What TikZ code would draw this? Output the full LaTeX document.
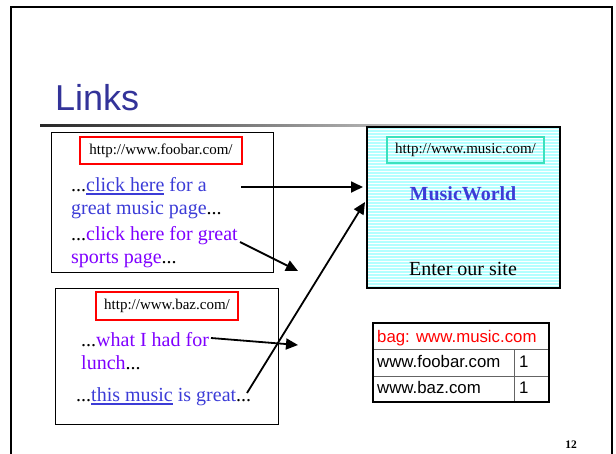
\documentclass[tikz,border=0pt]{standalone}
\usepackage{fontspec}
\setmainfont{Liberation Serif}
\setsansfont{Liberation Sans}
\usetikzlibrary{arrows.meta}

\definecolor{titleblue}{RGB}{51,51,153}
\definecolor{linkblue}{RGB}{60,60,215}
\definecolor{visited}{RGB}{127,0,255}
\definecolor{urlteal}{RGB}{60,225,190}
\definecolor{stripe}{RGB}{180,255,255}
\definecolor{cellgray}{RGB}{100,100,100}

% underlined hyperlink text with a heavier rule
\newsavebox\linkbox
\newcommand\linkul[1]{\sbox\linkbox{#1}\rlap{\rule[-3.6pt]{\wd\linkbox}{1.7pt}}\usebox\linkbox}

\tikzset{
  frame/.style={line width=2.4pt, black},
  pagebox/.style={draw=black, line width=0.9pt, inner sep=0pt},
  urlbox/.style={draw=red, line width=1.5pt, inner sep=0pt, font=\fontsize{15}{18}\selectfont},
  pagetext/.style={anchor=base west, inner sep=0pt, font=\fontsize{20}{24}\selectfont},
  link/.style={line width=1.8pt, -{Triangle[length=12pt,width=11pt]}},
  cell/.style={draw=cellgray, line width=1pt, inner sep=0pt},
  celltext/.style={anchor=base west, inner sep=0pt, font=\sffamily\fontsize{16.8}{19}\selectfont},
}

\begin{document}
\begin{tikzpicture}[x=1pt,y=-1pt]
\useasboundingbox (0,0) rectangle (616,453);

% slide frame
\draw[frame] (11,455) -- (11,7) -- (612,7) -- (612,455);

% title and fading rule
\node[anchor=base west, inner sep=0pt, text=titleblue,
      font=\sffamily\fontsize{36}{40}\selectfont] (title) at (55,110) {Links};
\shade[left color=black!85, right color=white] (40,124) rectangle (562,126.5);

% page at foobar.com
\node[pagebox, minimum width=222pt, minimum height=140pt] (foobar) at (162,202) {};
\node[urlbox, minimum width=162pt, minimum height=27pt] (foobarurl) at (161,150.5) {http://www.foobar.com/};
\node[pagetext] (fb1) at (71,191) {...\textcolor{linkblue}{\linkul{click here} for a}};
\node[pagetext] (fb2) at (71,214) {\textcolor{linkblue}{great music page}...};
\node[pagetext] (fb3) at (71,240) {...\textcolor{visited}{click here for great}};
\node[pagetext] (fb4) at (71,263) {\textcolor{visited}{sports page}...};

% page at baz.com
\node[pagebox, minimum width=223pt, minimum height=136pt] (baz) at (166.5,356) {};
\node[urlbox, minimum width=142pt, minimum height=28pt] (bazurl) at (167,306) {http://www.baz.com/};
\node[pagetext] (bz1) at (81,346) {...\textcolor{visited}{what I had for}};
\node[pagetext] (bz2) at (81,369) {\textcolor{visited}{lunch}...};
\node[pagetext] (bz3) at (76,401) {...\textcolor{linkblue}{\linkul{this music} is great}...};

% page at music.com with striped background
\begin{scope}
  \clip (367,127) rectangle (560,288);
  \foreach \yy in {128,131,...,290} {
    \draw[stripe, line width=1.5pt] (367,\yy) -- (560,\yy);
  }
\end{scope}
\node[draw=black, line width=2pt, inner sep=0pt, minimum width=193pt, minimum height=161pt] (music) at (463.5,207.5) {};
\node[draw=urlteal, line width=1.2pt, inner sep=0pt,
      minimum width=157pt, minimum height=26pt, font=\fontsize{15}{18}\selectfont] (musicurl) at (465.5,150) {http://www.music.com/};
\node[anchor=base, inner sep=0pt, text=linkblue, font=\bfseries\fontsize{20}{24}\selectfont] (musicworld) at (463,200) {MusicWorld};
\node[anchor=base, inner sep=0pt, font=\fontsize{20}{24}\selectfont] (enter) at (463,275) {Enter our site};

% link arrows
\coordinate (a1s) at (241,187);
\coordinate (a2s) at (240,242);
\coordinate (a2e) at (298,271);
\coordinate (a3s) at (211,338);
\coordinate (a3e) at (298,345);
\coordinate (a4s) at (247,393);
\coordinate (a4e) at (365,202);
\draw[link, shorten >=3pt] (a1s) -- (music.west |- a1s);
\draw[link] (a2s) -- (a2e);
\draw[link] (a3s) -- (a3e);
\draw[link] (a4s) -- (a4e);

% bag of incoming links
\node[cell, anchor=north west, minimum width=175pt, minimum height=26pt] (hdr) at (373,323) {};
\node[cell, anchor=north west, minimum width=141pt, minimum height=27pt] (r1a) at (373,349) {};
\node[cell, anchor=north west, minimum width=34pt, minimum height=27pt] (r1b) at (514,349) {};
\node[cell, anchor=north west, minimum width=141pt, minimum height=25pt] (r2a) at (373,376) {};
\node[cell, anchor=north west, minimum width=34pt, minimum height=25pt] (r2b) at (514,376) {};
\draw[black, line width=2pt] (hdr.north west) rectangle (r2b.south east);
\node[celltext, text=red] (hdrtxt) at (377,342) {bag: www.music.com};
\node[celltext] (r1atxt) at (377,367) {www.foobar.com};
\node[celltext] (r1btxt) at (519,367) {1};
\node[celltext] (r2atxt) at (377,393) {www.baz.com};
\node[celltext] (r2btxt) at (519,393) {1};

% page number
\node[anchor=base, inner sep=0pt, font=\bfseries\fontsize{11.5}{13}\selectfont] (pagenum) at (571,448) {12};
\end{tikzpicture}
\end{document}
